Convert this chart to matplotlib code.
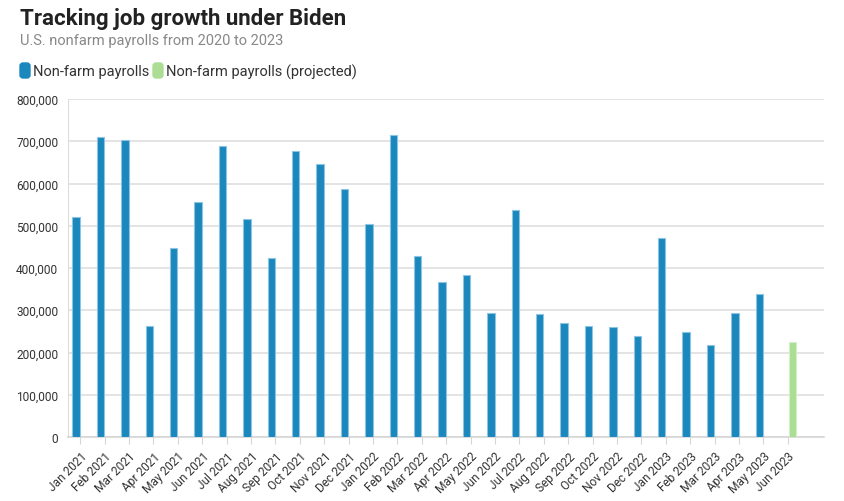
import numpy as np
import matplotlib
matplotlib.use('Agg')
import matplotlib.pyplot as plt
from matplotlib.patches import FancyBboxPatch
from matplotlib.transforms import IdentityTransform
from matplotlib.ticker import FuncFormatter

plt.rcParams['font.family'] = ['Roboto', 'DejaVu Sans']

# data
months = ['Jan 2021', 'Feb 2021', 'Mar 2021', 'Apr 2021', 'May 2021', 'Jun 2021',
          'Jul 2021', 'Aug 2021', 'Sep 2021', 'Oct 2021', 'Nov 2021', 'Dec 2021',
          'Jan 2022', 'Feb 2022', 'Mar 2022', 'Apr 2022', 'May 2022', 'Jun 2022',
          'Jul 2022', 'Aug 2022', 'Sep 2022', 'Oct 2022', 'Nov 2022', 'Dec 2022',
          'Jan 2023', 'Feb 2023', 'Mar 2023', 'Apr 2023', 'May 2023', 'Jun 2023']
payrolls = [520000, 710000, 704000, 263000, 447000, 557000,
            689000, 517000, 424000, 677000, 647000, 588000,
            504000, 714000, 428000, 368000, 384000, 293000,
            537000, 292000, 269000, 263000, 260000, 239000,
            472000, 248000, 217000, 294000, 339000, np.nan]
projected = [np.nan] * 29 + [224000]

blue = '#1a87bd'
green = '#abde94'

W, H = 844, 502
fig = plt.figure(figsize=(W / 100, H / 100), dpi=100)
ax = fig.add_axes([68 / W, 1 - 438 / H, (824 - 68) / W, (438 - 100) / H])

x = np.arange(len(months))
w = 0.3
ax.bar(x - 0.17, payrolls, width=w, color=blue, edgecolor='#8cc4e2', linewidth=0.8, zorder=3)
ax.bar(x + 0.18, projected, width=w, color=green, edgecolor='#d4efc8', linewidth=0.8, zorder=3)

ax.set_xlim(-0.5, 30.48)
ax.set_ylim(0, 800000)
ax.set_yticks(np.arange(0, 800001, 100000))
ax.yaxis.set_major_formatter(FuncFormatter(lambda v, p: f'{int(v):,}'))
ax.set_xticks(x)
ax.set_xticklabels(months, rotation=45, ha='right', rotation_mode='anchor')

ax.grid(axis='y', color='#e4e4e4', linewidth=1.4, zorder=0)
for s in ['top', 'right']:
    ax.spines[s].set_visible(False)
ax.spines['left'].set_color('#dddddd')
ax.spines['bottom'].set_color('#d6d6d6')
ax.spines['bottom'].set_linewidth(1.2)
ax.tick_params(axis='y', length=0, pad=7, labelsize=8.6, labelcolor='#333333')
ax.tick_params(axis='x', length=5, color='#d6d6d6', pad=4, labelsize=8.6, labelcolor='#333333')

# header
fig.text(20 / W, 1 - 19 / H, 'Tracking job growth under Biden', fontsize=16,
         fontweight='bold', color='#222222', va='center')
fig.text(20 / W, 1 - 41 / H, 'U.S. nonfarm payrolls from 2020 to 2023', fontsize=10.5,
         color='#888888', va='center')

# legend, swatches placed in pixels
for lx, col, lab in [(20, blue, 'Non-farm payrolls'), (153, green, 'Non-farm payrolls (projected)')]:
    fig.patches.append(FancyBboxPatch((lx, H - 79), 10, 15,
                                      boxstyle='round,pad=0,rounding_size=3',
                                      transform=IdentityTransform(), color=col))
    fig.text((lx + 13) / W, 1 - 72 / H, lab, fontsize=10.5, color='#333333', va='center')

fig.savefig('out.png', dpi=100)
